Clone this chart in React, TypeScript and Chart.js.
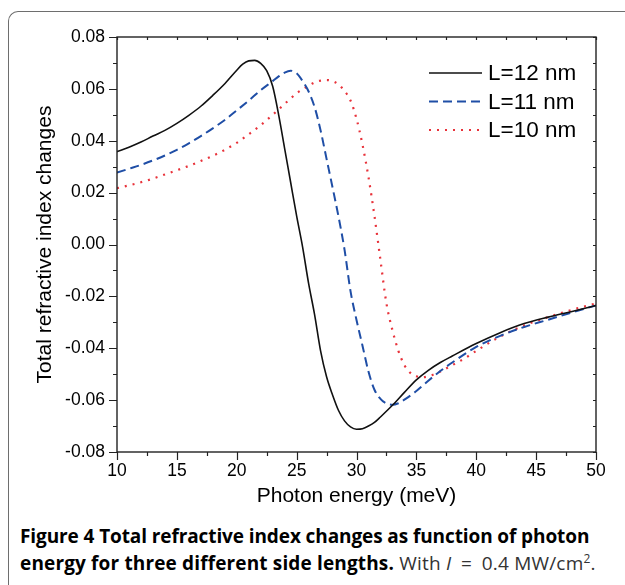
import React, { useEffect, useRef } from "react";
import { Chart, registerables } from "chart.js";
Chart.register(...registerables);

// L = 12 nm
const energy12 = [10, 11, 12, 13, 14, 15, 16, 17, 18, 19, 20, 20.5, 21, 21.5, 22, 22.5, 23, 23.5, 24, 24.5, 25, 25.5, 26, 26.5, 27, 27.5, 28, 28.5, 29, 29.5, 30, 30.5, 31, 31.5, 32, 33, 34, 35, 36, 37, 38, 40, 42, 44, 46, 48, 50];
const index12 = [0.0358, 0.0375, 0.0395, 0.0418, 0.044, 0.0467, 0.0498, 0.0533, 0.0575, 0.062, 0.0672, 0.0695, 0.0708, 0.071, 0.0698, 0.067, 0.061, 0.05, 0.037, 0.024, 0.011, -0.001, -0.015, -0.027, -0.041, -0.051, -0.058, -0.064, -0.068, -0.0703, -0.0712, -0.071, -0.07, -0.0686, -0.0665, -0.062, -0.057, -0.0522, -0.0485, -0.0455, -0.043, -0.0382, -0.034, -0.0305, -0.028, -0.0258, -0.0235];

// L = 11 nm
const energy11 = [10, 11, 12, 13, 14, 15, 16, 17, 18, 19, 20, 21, 22, 23, 23.5, 24, 24.5, 25, 25.5, 26, 26.5, 27, 27.5, 28, 28.5, 29, 29.5, 30, 30.5, 31, 31.5, 32, 32.5, 33, 33.5, 34, 35, 36, 37, 38, 40, 42, 44, 46, 48, 50];
const index11 = [0.0277, 0.0292, 0.0307, 0.0324, 0.0343, 0.0365, 0.039, 0.0418, 0.0448, 0.048, 0.0517, 0.0555, 0.0595, 0.063, 0.0648, 0.0663, 0.067, 0.066, 0.063, 0.059, 0.053, 0.044, 0.033, 0.022, 0.0107, -0.002, -0.018, -0.0291, -0.039, -0.049, -0.056, -0.0595, -0.0613, -0.0618, -0.0612, -0.0598, -0.0565, -0.0525, -0.0488, -0.0455, -0.0395, -0.0352, -0.0318, -0.029, -0.0262, -0.0235];

// L = 10 nm
const energy10 = [10, 11, 12, 13, 14, 15, 16, 17, 18, 19, 20, 21, 22, 23, 24, 25, 26, 26.5, 27, 27.5, 28, 28.5, 29, 29.5, 30, 30.5, 31, 31.5, 32, 32.5, 33, 33.5, 34, 34.5, 35, 35.5, 36, 36.5, 37, 38, 39, 40, 42, 44, 46, 48, 50];
const index10 = [0.0217, 0.0228, 0.024, 0.0254, 0.027, 0.0286, 0.0303, 0.0322, 0.0342, 0.0365, 0.0392, 0.0425, 0.046, 0.05, 0.0542, 0.0583, 0.0612, 0.0625, 0.0632, 0.0634, 0.063, 0.0617, 0.0592, 0.0555, 0.0485, 0.0385, 0.026, 0.011, -0.006, -0.0227, -0.033, -0.041, -0.0465, -0.0495, -0.0508, -0.0512, -0.0508, -0.05, -0.049, -0.0465, -0.044, -0.041, -0.0355, -0.0312, -0.028, -0.0252, -0.0227];

const seriesLabels = ["L=12 nm", "L=11 nm", "L=10 nm"];
const seriesColors = ["#111111", "#1f4ea6", "#e8323a"];
const seriesDashes: number[][] = [[], [9, 5], [2, 6]];
const seriesWidths = [1.6, 2, 2.2];

const xTitle = "Photon energy (meV)";
const yTitle = "Total refractive index changes";

const toPoints = (xs: number[], ys: number[]) => xs.map((x, i) => ({ x, y: ys[i] }));

const framePlugin = {
  id: "frame",
  afterDraw(chart: any) {
    const { ctx, chartArea, scales } = chart;
    const { left, right, top, bottom } = chartArea;
    const xs = scales.x;
    const ys = scales.y;
    ctx.save();
    ctx.strokeStyle = "#222";
    ctx.lineWidth = 1.4;
    ctx.strokeRect(left, top, right - left, bottom - top);
    ctx.lineWidth = 1.2;
    ctx.beginPath();
    for (let v = 10; v <= 50.001; v += 2.5) {
      const px = Math.round(xs.getPixelForValue(v)) + 0.5;
      const major = Math.abs(v / 5 - Math.round(v / 5)) < 1e-6;
      ctx.moveTo(px, bottom);
      ctx.lineTo(px, bottom + (major ? 8 : 4));
      ctx.moveTo(px, top);
      ctx.lineTo(px, top + 3);
    }
    for (let k = -8; k <= 8; k++) {
      const v = k * 0.01;
      const py = Math.round(ys.getPixelForValue(v)) + 0.5;
      const major = k % 2 === 0;
      ctx.moveTo(left, py);
      ctx.lineTo(left - (major ? 8 : 4), py);
      ctx.moveTo(right, py);
      ctx.lineTo(right - 3, py);
    }
    ctx.stroke();

    // legend
    const lx0 = 429;
    const lx1 = 482;
    const rows = [73, 101.5, 130];
    ctx.font = "22.5px 'Liberation Sans', Arial, sans-serif";
    ctx.textBaseline = "middle";
    ctx.textAlign = "left";
    for (let i = 0; i < 3; i++) {
      ctx.beginPath();
      ctx.strokeStyle = seriesColors[i];
      ctx.lineWidth = seriesWidths[i];
      ctx.setLineDash(seriesDashes[i]);
      ctx.moveTo(lx0, rows[i]);
      ctx.lineTo(lx1, rows[i]);
      ctx.stroke();
      ctx.setLineDash([]);
      ctx.fillStyle = "#000";
      ctx.fillText(seriesLabels[i], 488, rows[i] + 1);
    }
    ctx.restore();
  },
};

export default function App() {
  const ref = useRef<HTMLCanvasElement | null>(null);
  useEffect(() => {
    if (!ref.current) return;
    const series = [
      toPoints(energy12, index12),
      toPoints(energy11, index11),
      toPoints(energy10, index10),
    ];
    const chart = new Chart(ref.current, {
      type: "line",
      data: {
        datasets: series.map((d, i) => ({
          label: seriesLabels[i],
          data: d,
          borderColor: seriesColors[i],
          borderWidth: seriesWidths[i],
          borderDash: seriesDashes[i],
          pointRadius: 0,
          fill: false,
          cubicInterpolationMode: "monotone" as const,
        })),
      },
      options: {
        responsive: false,
        animation: false,
        layout: { padding: { top: 37, right: 29, left: 0, bottom: 0 } },
        plugins: { legend: { display: false }, tooltip: { enabled: false } },
        scales: {
          x: {
            type: "linear",
            min: 10,
            max: 50,
            grid: { display: false, drawTicks: false },
            border: { display: false },
            ticks: {
              stepSize: 5,
              autoSkip: false,
              maxRotation: 0,
              padding: 9,
              color: "#000",
              font: { family: "'Liberation Sans', Arial, sans-serif", size: 17.5 },
            },
            title: {
              display: true,
              text: xTitle,
              color: "#000",
              font: { family: "'Liberation Sans', Arial, sans-serif", size: 21 },
              padding: { top: 0, bottom: 11 },
            },
            afterFit: (s: any) => {
              s.height = 68;
            },
          },
          y: {
            type: "linear",
            min: -0.08,
            max: 0.08,
            grid: { display: false, drawTicks: false },
            border: { display: false },
            ticks: {
              stepSize: 0.02,
              autoSkip: false,
              padding: 12,
              color: "#000",
              font: { family: "'Liberation Sans', Arial, sans-serif", size: 17.5 },
              callback: (v: any) => (Math.abs(Number(v)) < 1e-9 ? "0.00" : Number(v).toFixed(2)),
            },
            title: {
              display: true,
              text: yTitle,
              color: "#000",
              font: { family: "'Liberation Sans', Arial, sans-serif", size: 21 },
              padding: { top: 33, bottom: 0 },
            },
            afterFit: (s: any) => {
              s.width = 117;
            },
          },
        },
      },
      plugins: [framePlugin],
    });
    return () => chart.destroy();
  }, []);

  return (
    <div style={{ position: "absolute", left: 0, top: 0, width: 625, height: 585, overflow: "hidden", background: "#fff" }}>
      <div
        style={{
          position: "absolute",
          left: 8,
          top: 11,
          width: 617,
          height: 574,
          boxSizing: "border-box",
          borderTop: "1.5px solid #6e6e6e",
          borderLeft: "1.5px solid #6e6e6e",
          borderTopLeftRadius: 10,
        }}
      />
      <canvas ref={ref} width={625} height={520} style={{ position: "absolute", left: 0, top: 0, width: 625, height: 520 }} />
      <div
        style={{
          position: "absolute",
          left: 20,
          top: 523,
          fontFamily: "'Open Sans', Lato, sans-serif",
          fontWeight: 700,
          fontSize: 19,
          letterSpacing: "-0.1px",
          lineHeight: "27px",
          color: "#000",
          whiteSpace: "nowrap",
        }}
      >
        Figure 4 Total refractive index changes as function of photon
        <br />
        <span style={{ letterSpacing: "0.15px" }}>energy for three different side lengths.</span>
        <span style={{ fontWeight: 400, color: "#333", letterSpacing: "0.2px" }}>
          {" "}With <i>I</i>{"\u2002=\u2002"}0.4 MW/cm<sup style={{ fontSize: 12, lineHeight: 0 }}>2</sup>.
        </span>
      </div>
    </div>
  );
}
